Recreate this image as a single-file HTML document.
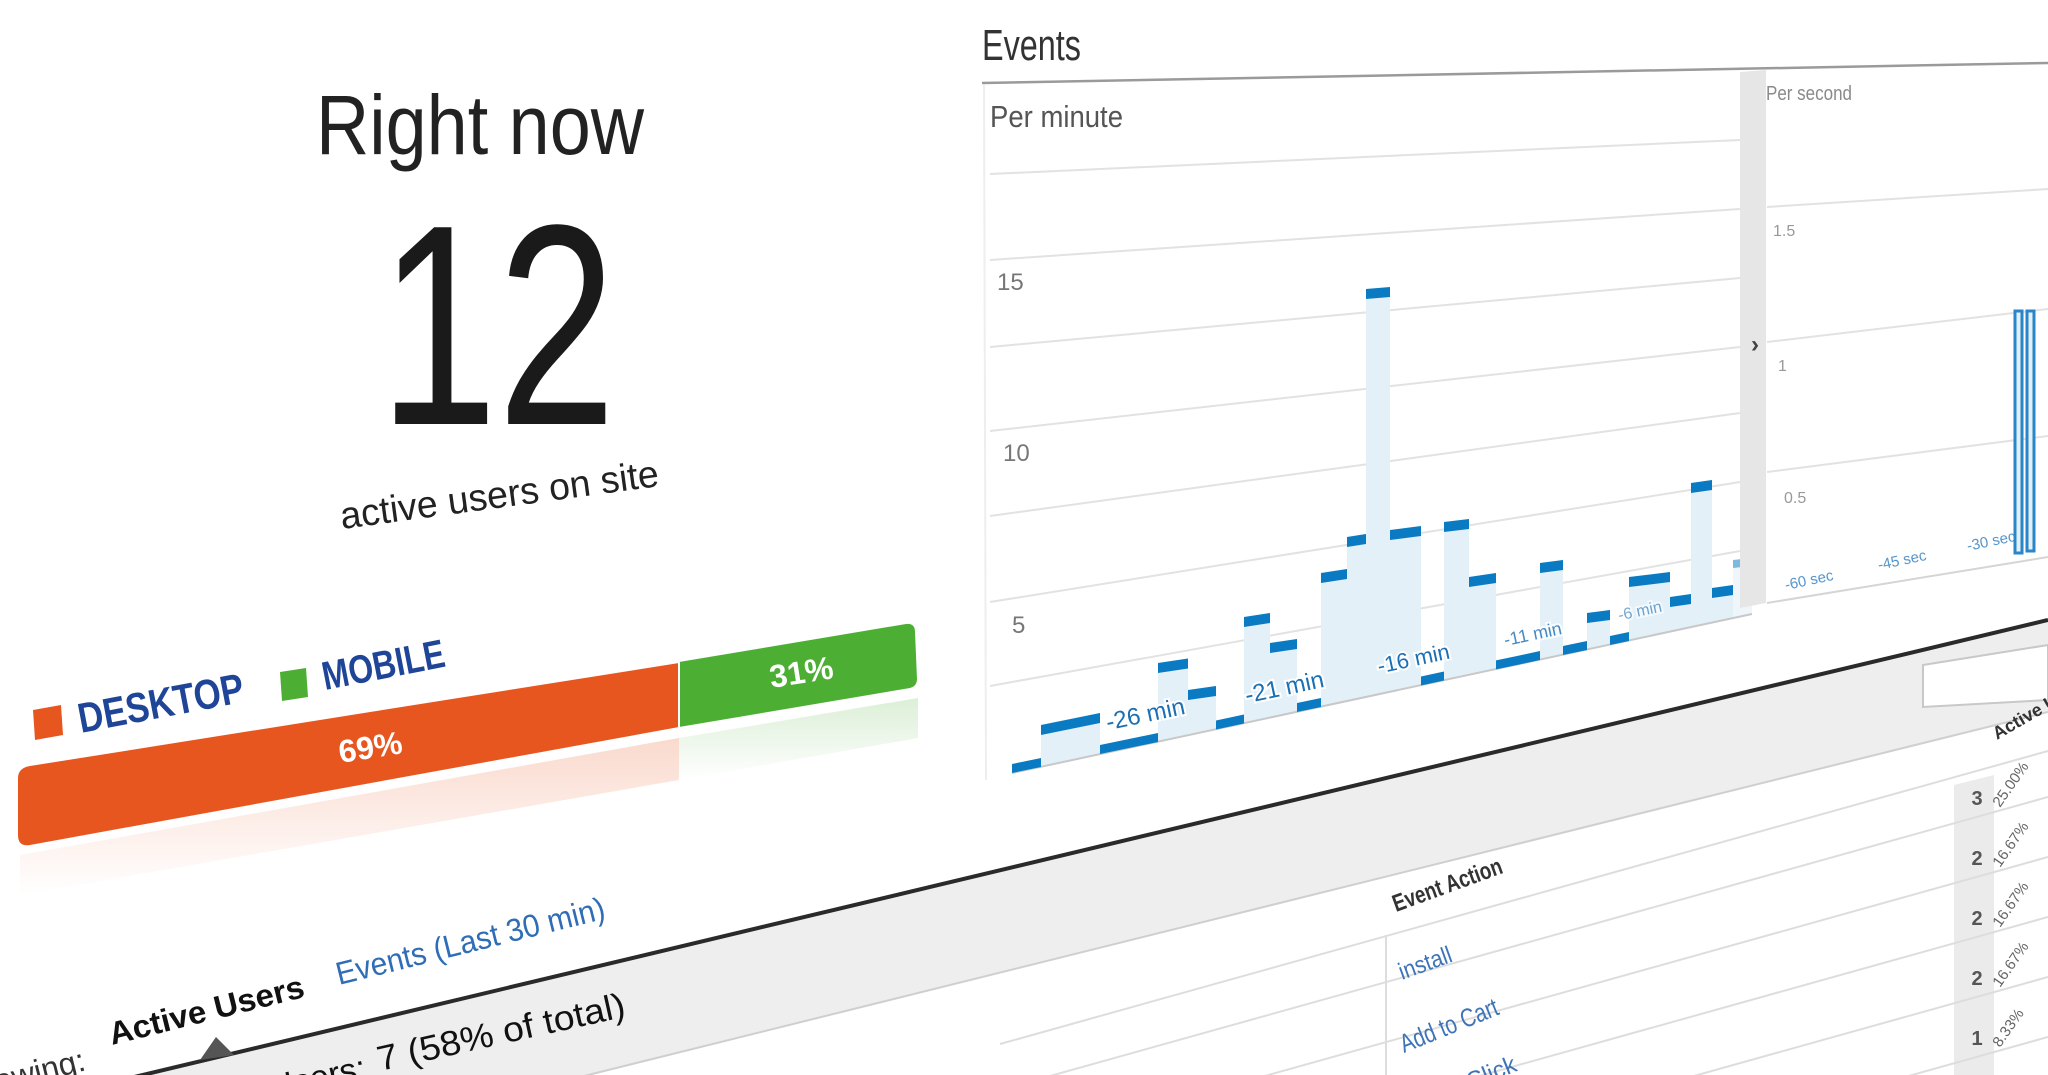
<!DOCTYPE html>
<html><head><meta charset="utf-8"><style>
html,body{margin:0;padding:0;background:#fff;width:2048px;height:1075px;overflow:hidden}
svg{display:block}
text{font-family:"Liberation Sans",sans-serif}
.tl{fill:#1c6fb3;stroke:#fff;stroke-width:4;paint-order:stroke}
</style></head><body>
<svg width="2048" height="1075" viewBox="0 0 2048 1075" xmlns="http://www.w3.org/2000/svg">
<defs>
<linearGradient id="og" x1="0" y1="0" x2="0" y2="1"><stop offset="0" stop-color="#e8561f" stop-opacity="0.22"/><stop offset="1" stop-color="#e8561f" stop-opacity="0"/></linearGradient>
<linearGradient id="gg" x1="0" y1="0" x2="0" y2="1"><stop offset="0" stop-color="#4caf34" stop-opacity="0.2"/><stop offset="1" stop-color="#4caf34" stop-opacity="0"/></linearGradient>
</defs>
<rect width="2048" height="1075" fill="#fff"/>

<!-- Left panel -->
<text x="316" y="154" font-size="84" textLength="328" lengthAdjust="spacingAndGlyphs" fill="#222">Right now</text>
<text x="379" y="424" font-size="286" textLength="237" lengthAdjust="spacingAndGlyphs" fill="#1a1a1a">12</text>
<text x="342" y="529" font-size="38" textLength="321" lengthAdjust="spacingAndGlyphs" fill="#222" transform="rotate(-7.7 342 529)">active users on site</text>

<polygon points="33,710 61,705 63,735 35,740" fill="#e8561f"/>
<text x="81" y="733" font-size="42" font-weight="bold" textLength="168" lengthAdjust="spacingAndGlyphs" fill="#1e4597" transform="rotate(-10.8 81 733)">DESKTOP</text>
<polygon points="280,672 306,668 308,697 282,701" fill="#4caf34"/>
<text x="325" y="690" font-size="40" font-weight="bold" textLength="124" lengthAdjust="spacingAndGlyphs" fill="#1e4597" transform="rotate(-11 325 690)">MOBILE</text>

<polygon points="20,855 679,738 679,780 20,895" fill="url(#og)"/>
<polygon points="679,738 918,698 918,738 679,780" fill="url(#gg)"/>
<path d="M30,766 L679,663 L679,727 L30,845 Q18,847 18,835 L18,778 Q18,768 30,766 Z" fill="#e8561f"/>
<path d="M679,662 L906,624 Q915,623 915,632 L917,679 Q917,686 910,688 L679,727 Z" fill="#4caf34"/>
<line x1="679" y1="662" x2="679" y2="727" stroke="#fff" stroke-width="2"/>
<text x="372" y="758" font-size="32" font-weight="bold" fill="#fff" text-anchor="middle" transform="rotate(-9 372 758)">69%</text>
<text x="803" y="683" font-size="32" font-weight="bold" fill="#fff" text-anchor="middle" transform="rotate(-9 803 683)">31%</text>

<!-- Events header -->
<text x="982" y="60" font-size="44" textLength="99" lengthAdjust="spacingAndGlyphs" fill="#333">Events</text>
<line x1="982" y1="83" x2="2048" y2="63" stroke="#9a9a9a" stroke-width="2.5"/>
<line x1="984" y1="85" x2="986" y2="780" stroke="#eee" stroke-width="2"/>
<text x="990" y="127" font-size="31" textLength="133" lengthAdjust="spacingAndGlyphs" fill="#555">Per minute</text>

<g stroke="#e2e2e2" stroke-width="2">
<line x1="990" y1="174" x2="1740" y2="140"/>
<line x1="990" y1="260" x2="1740" y2="209"/>
<line x1="990" y1="347" x2="1740" y2="278"/>
<line x1="990" y1="431" x2="1740" y2="347"/>
<line x1="990" y1="516" x2="1740" y2="413"/>
<line x1="990" y1="602" x2="1740" y2="482"/>
<line x1="990" y1="686" x2="1740" y2="551"/>
</g>
<text x="997" y="290" font-size="24" fill="#777">15</text>
<text x="1003" y="461" font-size="24" fill="#777">10</text>
<text x="1012" y="633" font-size="24" fill="#777">5</text>

<g fill="#e3f0f8">
<polygon points="1041,725 1100,713 1100,754.4 1041,767"/>
<polygon points="1158,663 1188,658.5 1188,735.5 1158,742"/>
<polygon points="1188,690 1216,686 1216,729.5 1188,735.5"/>
<polygon points="1244,617 1270,613 1270,718 1244,723.5"/>
<polygon points="1270,643 1297,639 1297,712 1270,718"/>
<polygon points="1321,573 1347,569 1347,701.4 1321,707"/>
<polygon points="1347,537 1366,534 1366,697.3 1347,701.4"/>
<polygon points="1366,289 1390,287 1390,692 1366,697.3"/>
<polygon points="1390,530 1421,526 1421,685.5 1390,692"/>
<polygon points="1444,522 1469,519 1469,675 1444,680.5"/>
<polygon points="1469,577 1496,573 1496,669.4 1469,675"/>
<polygon points="1540,563 1563,560 1563,655 1540,660"/>
<polygon points="1587,613 1610,610 1610,645 1587,650"/>
<polygon points="1629,577 1670,572 1670,632 1629,641"/>
<polygon points="1670,597 1691,594 1691,627.5 1670,632"/>
<polygon points="1691,483 1712,480 1712,623 1691,627.5"/>
<polygon points="1712,588 1733,585 1733,618.5 1712,623"/>
<polygon points="1733,560 1752,558 1752,614.4 1733,618.5" opacity="0.6"/>
</g>
<line x1="1012" y1="773" x2="1752" y2="614" stroke="#c8c8c8" stroke-width="2"/>
<g fill="#0a7bc2">
<polygon points="1012,764 1041,758 1041,767 1012,773"/>
<polygon points="1041,725 1100,713 1100,723 1041,735"/>
<polygon points="1100,745 1158,733 1158,742 1100,754"/>
<polygon points="1158,663 1188,658.5 1188,668.5 1158,673"/>
<polygon points="1188,690 1216,686 1216,696 1188,700"/>
<polygon points="1216,720.5 1244,714.5 1244,723.5 1216,729.5"/>
<polygon points="1244,617 1270,613 1270,623 1244,627"/>
<polygon points="1270,643 1297,639 1297,649 1270,653"/>
<polygon points="1297,703 1321,698 1321,707 1297,712"/>
<polygon points="1321,573 1347,569 1347,579 1321,583"/>
<polygon points="1347,537 1366,534 1366,544 1347,547"/>
<polygon points="1366,289 1390,287 1390,297 1366,299"/>
<polygon points="1390,530 1421,526 1421,536 1390,540"/>
<polygon points="1421,676.5 1444,671.5 1444,680.5 1421,685.5"/>
<polygon points="1444,522 1469,519 1469,529 1444,532"/>
<polygon points="1469,577 1496,573 1496,583 1469,587"/>
<polygon points="1496,660.4 1517,656 1517,665 1496,669.4"/>
<polygon points="1517,656 1540,651 1540,660 1517,665"/>
<polygon points="1540,563 1563,560 1563,570 1540,573"/>
<polygon points="1563,646 1587,641 1587,650 1563,655"/>
<polygon points="1587,613 1610,610 1610,620 1587,623"/>
<polygon points="1610,636 1629,632 1629,641 1610,645"/>
<polygon points="1629,577 1670,572 1670,582 1629,587"/>
<polygon points="1670,597 1691,594 1691,604 1670,607"/>
<polygon points="1691,483 1712,480 1712,490 1691,493"/>
<polygon points="1712,588 1733,585 1733,595 1712,598"/>
<polygon points="1733,560 1752,558 1752,566 1733,568" opacity="0.5"/>
</g>
<text class="tl" x="1147" y="722" font-size="24" text-anchor="middle" transform="rotate(-12 1147 722)">-26 min</text>
<text class="tl" x="1286" y="695" font-size="24" text-anchor="middle" transform="rotate(-12 1286 695)">-21 min</text>
<text class="tl" x="1415" y="666" font-size="22" text-anchor="middle" transform="rotate(-12 1415 666)">-16 min</text>
<text class="tl" x="1534" y="640" font-size="18" text-anchor="middle" transform="rotate(-12 1534 640)" opacity="0.8">-11 min</text>
<text class="tl" x="1641" y="616" font-size="16" text-anchor="middle" transform="rotate(-12 1641 616)" opacity="0.6">-6 min</text>

<polygon points="1740,72 1766,70 1766,603 1740,608" fill="#e6e6e6"/>
<text x="1751" y="352" font-size="24" font-weight="bold" fill="#444">›</text>

<text x="1766" y="100" font-size="20" textLength="86" lengthAdjust="spacingAndGlyphs" fill="#8a8a8a">Per second</text>
<g stroke="#e2e2e2" stroke-width="2">
<line x1="1767" y1="207" x2="2048" y2="189"/>
<line x1="1767" y1="342" x2="2048" y2="309"/>
<line x1="1767" y1="472" x2="2048" y2="436"/>
</g>
<line x1="1767" y1="603" x2="2048" y2="557" stroke="#d5d5d5" stroke-width="2"/>
<text x="1773" y="236" font-size="16" fill="#999">1.5</text>
<text x="1778" y="371" font-size="16" fill="#999">1</text>
<text x="1784" y="503" font-size="16" fill="#999">0.5</text>
<text x="1786" y="590" font-size="15" fill="#2a7bc0" transform="rotate(-12 1786 590)" opacity="0.8">-60 sec</text>
<text x="1879" y="570" font-size="15" fill="#2a7bc0" transform="rotate(-12 1879 570)" opacity="0.8">-45 sec</text>
<text x="1968" y="551" font-size="15" fill="#2a7bc0" transform="rotate(-12 1968 551)" opacity="0.8">-30 sec</text>
<rect x="2015" y="311" width="7" height="242" fill="#e3f0f8" stroke="#2a86c8" stroke-width="3"/>
<rect x="2027" y="311" width="7" height="240" fill="#e3f0f8" stroke="#2a86c8" stroke-width="3"/>

<!-- lower section -->
<polygon points="130,1078 2048,620 2048,712 580,1078" fill="#eeeeee"/>
<line x1="580" y1="1077" x2="2048" y2="712" stroke="#cfcfcf" stroke-width="2"/>
<line x1="130" y1="1078" x2="2048" y2="620" stroke="#2a2a2a" stroke-width="4"/>
<polygon points="200,1060 216,1037 234,1055" fill="#555"/>
<text x="87" y="1070" font-size="32" fill="#333" text-anchor="end" transform="rotate(-14 87 1070)">Showing:</text>
<text x="112" y="1045" font-size="32" font-weight="bold" textLength="200" lengthAdjust="spacingAndGlyphs" fill="#111" transform="rotate(-14 112 1045)">Active Users</text>
<text x="339" y="985" font-size="32" textLength="276" lengthAdjust="spacingAndGlyphs" fill="#2f6db6" transform="rotate(-14 339 985)">Events (Last 30 min)</text>
<text x="368" y="1078" font-size="34" fill="#111" text-anchor="end" transform="rotate(-12.5 368 1078)">Users:</text>
<text x="380" y="1071" font-size="35" textLength="253" lengthAdjust="spacingAndGlyphs" fill="#111" transform="rotate(-12.5 380 1071)">7 (58% of total)</text>

<!-- table -->
<polygon points="1923,665 2048,645 2048,700 1923,707" fill="#fff" stroke="#c8c8c8" stroke-width="2"/>
<text x="1997" y="740" font-size="18" font-weight="bold" fill="#333" transform="rotate(-30 1997 740)">Active Users</text>
<polygon points="1954,785 1994,775 1994,1075 1954,1075" fill="#ebebeb"/>
<g stroke="#dddddd" stroke-width="2">
<line x1="1000" y1="1044" x2="2048" y2="751"/>
<line x1="1000" y1="1090" x2="2048" y2="797"/>
<line x1="1000" y1="1150" x2="2048" y2="857"/>
<line x1="1000" y1="1210" x2="2048" y2="917"/>
<line x1="1000" y1="1270" x2="2048" y2="977"/>
<line x1="1000" y1="1330" x2="2048" y2="1037"/>
<line x1="1386" y1="935" x2="1386" y2="1075"/>
</g>
<text x="1396" y="912" font-size="24" font-weight="bold" textLength="115" lengthAdjust="spacingAndGlyphs" fill="#333" transform="rotate(-20 1396 912)">Event Action</text>
<text x="1402" y="980" font-size="24" textLength="55" lengthAdjust="spacingAndGlyphs" fill="#3d74b8" transform="rotate(-20 1402 980)">install</text>
<text x="1404" y="1053" font-size="26" textLength="104" lengthAdjust="spacingAndGlyphs" fill="#3d74b8" transform="rotate(-22 1404 1053)">Add to Cart</text>
<text x="1470" y="1090" font-size="24" fill="#3d74b8" transform="rotate(-22 1470 1090)">Click</text>
<g font-size="20" font-weight="bold" fill="#555" text-anchor="middle">
<text x="1977" y="805">3</text><text x="1977" y="865">2</text><text x="1977" y="925">2</text><text x="1977" y="985">2</text><text x="1977" y="1045">1</text>
</g>
<g font-size="15" fill="#666">
<text x="2000" y="808" transform="rotate(-55 2000 808)">25.00%</text>
<text x="2000" y="868" transform="rotate(-55 2000 868)">16.67%</text>
<text x="2000" y="928" transform="rotate(-55 2000 928)">16.67%</text>
<text x="2000" y="988" transform="rotate(-55 2000 988)">16.67%</text>
<text x="2000" y="1048" transform="rotate(-55 2000 1048)">8.33%</text>
</g>
</svg>
</body></html>
